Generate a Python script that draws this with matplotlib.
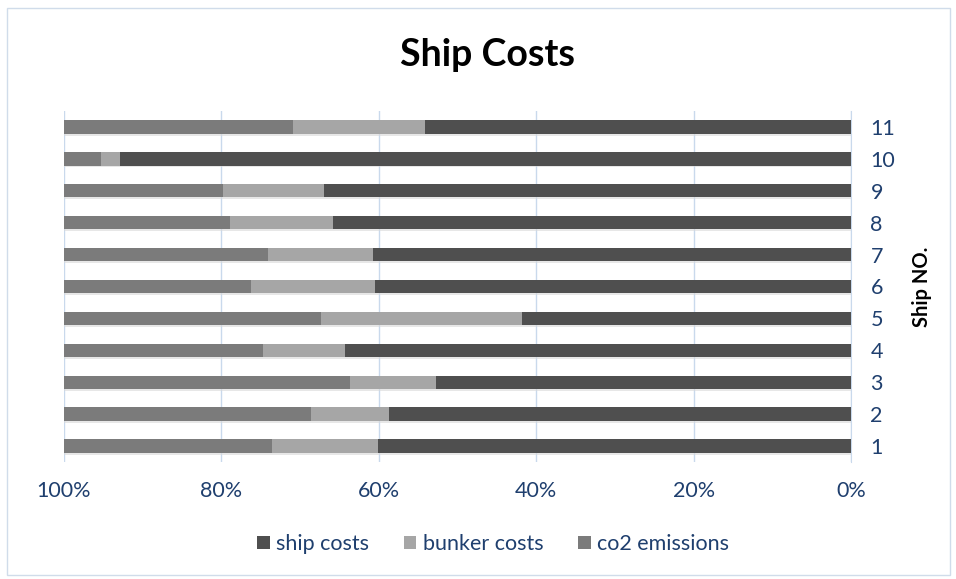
import matplotlib
matplotlib.use("Agg")
import matplotlib.pyplot as plt
import numpy as np
from matplotlib.patches import Rectangle

# %% data (percent of total per ship)
ships = ['1', '2', '3', '4', '5', '6', '7', '8', '9', '10', '11']
ship_costs = [60.1, 58.7, 52.7, 64.3, 41.8, 60.5, 60.8, 65.8, 66.9, 92.9, 54.1]
bunker_costs = [13.5, 9.9, 10.9, 10.4, 25.5, 15.7, 13.3, 13.1, 12.9, 2.4, 16.8]
co2_emissions = [26.4, 31.4, 36.4, 25.3, 32.7, 23.8, 25.9, 21.1, 20.2, 4.7, 29.1]
series_names = ['ship costs', 'bunker costs', 'co2 emissions']
x_ticks = [0, 20, 40, 60, 80, 100]

colors = ['#4f4f4f', '#a6a6a6', '#7b7b7b']
text_color = '#1f3f6e'

plt.rcParams['font.family'] = ['Lato', 'DejaVu Sans']

# %% plot
fig = plt.figure(figsize=(9.56, 5.79), dpi=100)
ax = fig.add_axes([64 / 956, 1 - 462 / 579, (851 - 64) / 956, (462 - 111) / 579])

y = np.arange(len(ships)) + 1
left = np.zeros(len(ships))
for vals, name, c in zip([ship_costs, bunker_costs, co2_emissions], series_names, colors):
    vals = np.array(vals, dtype=float)
    # soft shadow under each bar
    ax.barh(y - 0.06, vals, left=left, height=0.42, color='#d8d8d8', alpha=0.6, zorder=2)
    ax.barh(y, vals, left=left, height=0.42, color=c, label=name, zorder=3)
    left += vals

ax.set_xlim(100, 0)
ax.set_ylim(0.5, 11.5)
ax.set_xticks(x_ticks)
ax.set_xticklabels([f'{t}%' for t in x_ticks])
ax.set_yticks(y)
ax.set_yticklabels(ships)
ax.yaxis.tick_right()
ax.yaxis.set_label_position('right')
ax.tick_params(axis='both', length=0, colors=text_color, labelsize=15.5)
ax.tick_params(axis='x', pad=14)
ax.tick_params(axis='y', pad=14)
ax.grid(axis='x', color='#c9d9ec', linewidth=1, zorder=0)
for s in ['top', 'bottom', 'left']:
    ax.spines[s].set_visible(False)
ax.spines['right'].set_color('#c9d9ec')
ax.set_ylabel('Ship NO.', fontsize=14.5, fontweight='bold', color='black', labelpad=12)

fig.text(488 / 956, 1 - 55 / 579, 'Ship Costs', ha='center', va='center',
         fontsize=27, fontweight='bold', color='black')

leg = fig.legend(loc='center', bbox_to_anchor=(493 / 956, 1 - 544 / 579), ncol=3,
                 frameon=False, fontsize=15.5, handlelength=0.6, handleheight=0.6,
                 handletextpad=0.3, columnspacing=1.6)
for t in leg.get_texts():
    t.set_color(text_color)

fig.patches.append(Rectangle((7 / 956, 1 - 575 / 579), 943 / 956, 567 / 579,
                             transform=fig.transFigure, fill=False,
                             edgecolor='#d0dcea', linewidth=1))

fig.savefig('out.png', dpi=100)
